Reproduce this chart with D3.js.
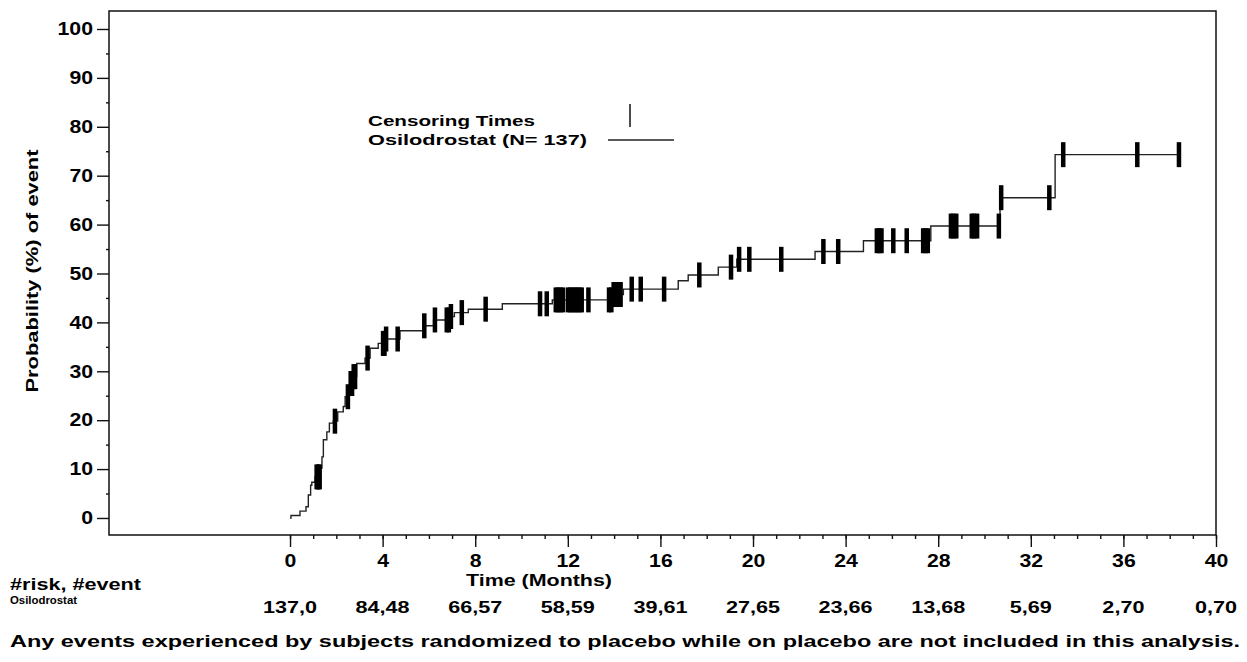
<!DOCTYPE html>
<html>
<head>
<meta charset="utf-8">
<script src="https://cdn.jsdelivr.net/npm/d3@7"></script>
<style>
  body { margin: 0; background: #fff; }
  svg { display: block; }
  text { font-family: "Liberation Sans", Arial, sans-serif; font-weight: bold; fill: #000; }
</style>
</head>
<body>
<svg id="km" width="1247" height="662"></svg>
<script>
// Kaplan-Meier: cumulative probability (%) of event, step changes
const stepTimes = [0, 0.04, 0.43, 0.69, 0.79, 0.89, 0.94, 1.08, 1.30, 1.38, 1.44, 1.59, 1.70, 1.87,
  2.06, 2.30, 2.38, 2.52, 2.59, 2.73, 2.88, 3.24, 3.46, 3.81, 4.10, 4.75, 5.76, 6.20, 6.90, 7.10,
  7.70, 9.17, 11.33, 13.90, 14.40, 16.77, 17.20, 18.50, 19.30, 22.68, 24.77, 27.68, 30.67, 33.05];
const stepPct = [0, 0.5, 1.4, 2.3, 4.7, 6.7, 7.3, 8.4, 10.2, 12.5, 16.0, 17.6, 19.4, 19.8,
  21.7, 22.8, 24.8, 25.8, 27.5, 28.9, 31.6, 32.7, 34.7, 35.7, 36.6, 38.3, 39.3, 40.5, 41.2, 42.0,
  42.7, 43.8, 44.6, 45.7, 46.8, 48.5, 49.7, 51.3, 52.9, 54.5, 56.7, 59.7, 65.5, 74.3];
const lastTime = 38.4;

const censorTimes = [1.15, 1.22, 1.28, 1.94, 2.50, 2.62, 2.68, 2.75, 2.81, 3.35, 4.02, 4.08, 4.15,
  4.65, 5.80, 6.26, 6.77, 6.86, 6.95, 7.42, 8.45, 10.80, 11.09, 11.48, 11.58, 11.68, 11.78,
  12.00, 12.10, 12.20, 12.30, 12.40, 12.50, 12.60, 12.89, 13.78, 13.88, 13.98, 14.08, 14.18,
  14.28, 14.76, 15.15, 16.16, 17.68, 19.05, 19.40, 19.84, 21.22, 23.04, 23.68, 25.35, 25.45,
  25.55, 26.06, 26.64, 27.35, 27.45, 27.55, 28.55, 28.65, 28.78, 29.45, 29.55, 29.68, 30.62,
  30.72, 32.80, 33.40, 36.60, 38.40];

// number at risk / cumulative events
const riskTimes = [0, 4, 8, 12, 16, 20, 24, 28, 32, 36, 40];
const atRisk = [137, 84, 66, 58, 39, 27, 23, 13, 5, 2, 0];
const nEvents = [0, 48, 57, 59, 61, 65, 66, 68, 69, 70, 70];

const svg = d3.select("#km");

const x = d3.scaleLinear().domain([-7.82, 40]).range([109, 1216]);
const y = d3.scaleLinear().domain([-3.48, 103.68]).range([535, 11]);

// stretch text horizontally, the source font is a wide one
function widen(sel, k) {
  sel.each(function () {
    const w = this.getComputedTextLength();
    d3.select(this).attr("textLength", w * k).attr("lengthAdjust", "spacingAndGlyphs");
  });
}
function fitTo(sel, w) {
  sel.attr("textLength", w).attr("lengthAdjust", "spacingAndGlyphs");
}

// frame
svg.append("rect")
  .attr("x", 109).attr("y", 11)
  .attr("width", 1216 - 109).attr("height", 535 - 11)
  .attr("fill", "none").attr("stroke", "#111").attr("stroke-width", 1.5);

// y axis
svg.append("g")
  .attr("transform", "translate(109,0)")
  .call(d3.axisLeft(y).tickValues(d3.range(0, 101, 10)).tickSize(12).tickPadding(4));
svg.append("g")
  .attr("transform", "translate(109,0)")
  .call(d3.axisLeft(y).tickValues(d3.range(5, 100, 10)).tickSize(3).tickFormat(""));

// x axis
svg.append("g")
  .attr("transform", "translate(0,535)")
  .call(d3.axisBottom(x).tickValues(d3.range(0, 41, 4)).tickSize(12).tickPadding(7));
svg.append("g")
  .attr("transform", "translate(0,535)")
  .call(d3.axisBottom(x).tickValues(d3.range(0, 41, 1)).tickSize(4).tickFormat(""));

svg.selectAll(".domain").remove();
svg.selectAll(".tick line").attr("stroke", "#111").attr("stroke-width", 1.4);
svg.selectAll(".tick text").attr("font-size", 18).attr("fill", "#000")
  .style("font-family", "Liberation Sans, Arial, sans-serif").style("font-weight", "bold");
widen(svg.selectAll(".tick text"), 1.18);

// axis titles
svg.append("text")
  .attr("transform", "translate(38,271) rotate(-90)")
  .attr("text-anchor", "middle")
  .attr("font-size", 16)
  .text("Probability (%) of event")
  .call(fitTo, 243);

svg.append("text")
  .attr("x", 539).attr("y", 586)
  .attr("text-anchor", "middle")
  .attr("font-size", 16)
  .text("Time (Months)")
  .call(fitTo, 146);

// KM step curve
const pts = stepTimes.map((t, i) => [t, stepPct[i]]);
pts.push([lastTime, stepPct[stepPct.length - 1]]);

const line = d3.line()
  .curve(d3.curveStepAfter)
  .x(d => x(d[0]))
  .y(d => y(d[1]));

svg.append("path")
  .attr("d", line(pts))
  .attr("fill", "none")
  .attr("stroke", "#222")
  .attr("stroke-width", 1.4);

// censor marks sit on the curve
const bis = d3.bisector(d => d).right;
function pctAt(t) {
  const i = bis(stepTimes, t) - 1;
  return stepPct[Math.max(0, i)];
}
svg.append("g").selectAll("rect")
  .data(censorTimes)
  .join("rect")
    .attr("x", d => x(d) - 2.25)
    .attr("y", d => y(pctAt(d)) - 12.5)
    .attr("width", 4.5)
    .attr("height", 25)
    .attr("fill", "#000");

// legend
const lg = svg.append("g");
lg.append("text").attr("x", 368).attr("y", 126).attr("font-size", 15)
  .text("Censoring Times").call(fitTo, 167);
lg.append("text").attr("x", 368).attr("y", 145).attr("font-size", 15)
  .text("Osilodrostat (N= 137)").call(fitTo, 219);
lg.append("line").attr("x1", 630).attr("x2", 630).attr("y1", 104).attr("y2", 127)
  .attr("stroke", "#111").attr("stroke-width", 1.5);
lg.append("line").attr("x1", 608).attr("x2", 674).attr("y1", 140).attr("y2", 140)
  .attr("stroke", "#222").attr("stroke-width", 1.4);

// risk table
svg.append("text").attr("x", 10).attr("y", 590).attr("font-size", 16)
  .text("#risk, #event").call(fitTo, 131);
svg.append("text").attr("x", 10).attr("y", 604).attr("font-size", 11)
  .text("Osilodrostat").call(fitTo, 67);

svg.append("g").selectAll("text")
  .data(riskTimes)
  .join("text")
    .attr("x", d => x(d))
    .attr("y", 613)
    .attr("text-anchor", "middle")
    .attr("font-size", 17)
    .text((d, i) => atRisk[i] + "," + nEvents[i])
    .call(widen, 1.27);

// footnote
svg.append("text").attr("x", 10).attr("y", 647).attr("font-size", 16)
  .text("Any events experienced by subjects randomized to placebo while on placebo are not included in this analysis.")
  .call(fitTo, 1230);
</script>
</body>
</html>
